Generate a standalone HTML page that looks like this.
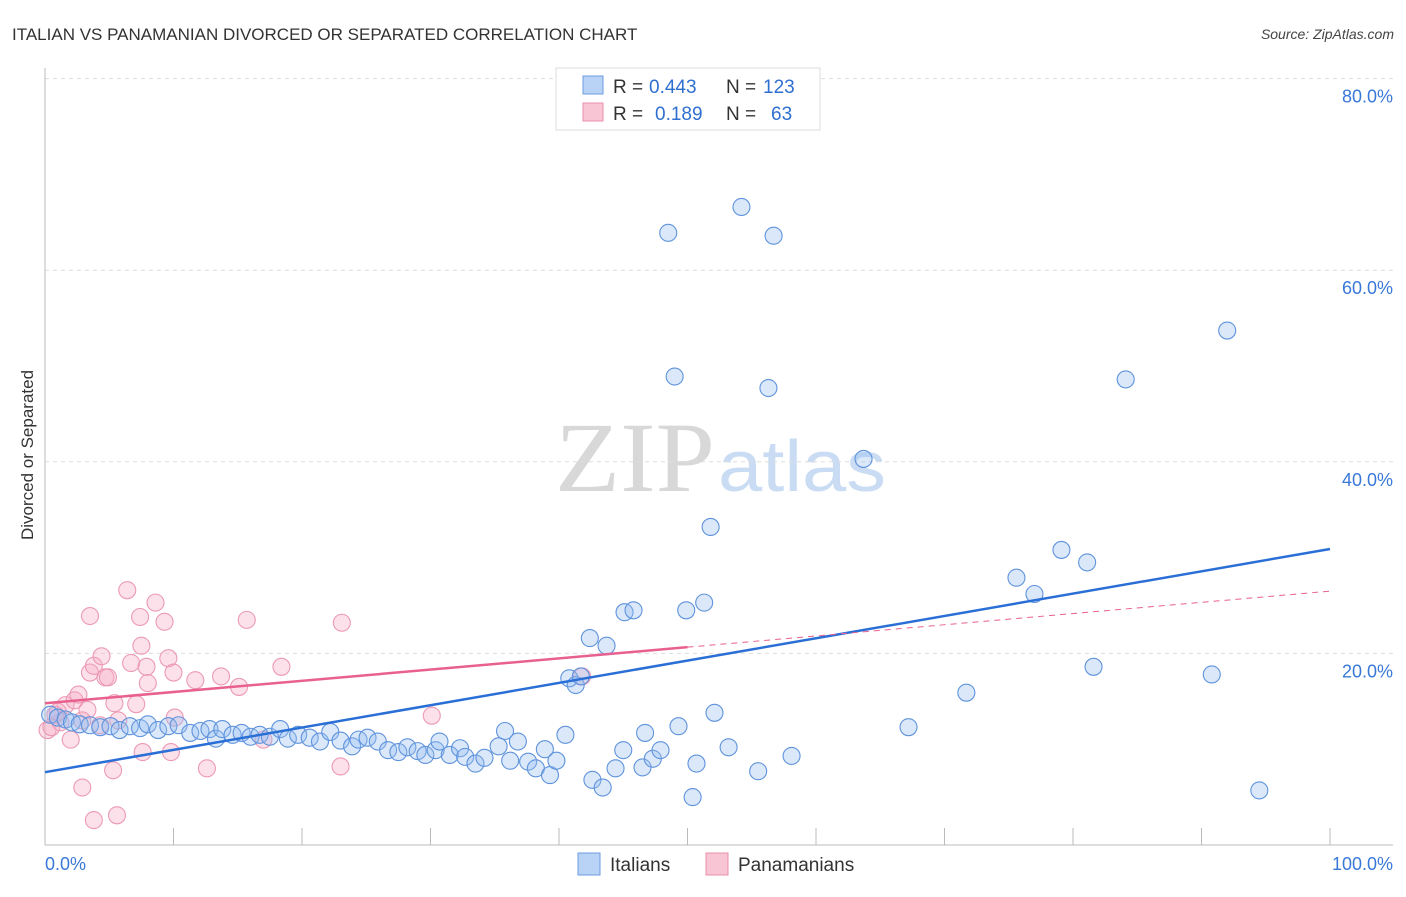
<!DOCTYPE html>
<html><head><meta charset="utf-8"><style>
body{margin:0;background:#fff;font-family:"Liberation Sans",sans-serif}
</style></head><body>
<svg width="1406" height="892" xmlns="http://www.w3.org/2000/svg" font-family="Liberation Sans, sans-serif">
<text x="12" y="40" font-size="17" fill="#333">ITALIAN VS PANAMANIAN DIVORCED OR SEPARATED CORRELATION CHART</text>
<text x="1394" y="39" font-size="14" fill="#444" text-anchor="end" font-style="italic">Source: ZipAtlas.com</text>
<text x="715" y="491" font-size="100" text-anchor="end" font-family="Liberation Serif, serif" fill="#d8d8d8" textLength="160" lengthAdjust="spacingAndGlyphs">ZIP</text>
<text x="718" y="491" font-size="72" fill="#c9dcf3" textLength="168" lengthAdjust="spacingAndGlyphs">atlas</text>
<g id="grid"></g>
<g id="axes"></g>
<g id="pts"></g>
<g id="lines"></g>
<text transform="translate(33,455) rotate(-90)" font-size="17" fill="#333" text-anchor="middle">Divorced or Separated</text>
<g font-size="19">
<rect x="556" y="68" width="264" height="62" fill="#fff" stroke="#ddd"/>
<rect x="583" y="76" width="20" height="18" fill="#b8d3f5" stroke="#6b9be0"/>
<text x="613" y="93" fill="#333">R =</text>
<text x="649" y="93" fill="#2f6fd0">0.443</text>
<text x="726" y="93" fill="#333">N =</text>
<text x="763" y="93" fill="#2f6fd0">123</text>
<rect x="583" y="103" width="20" height="18" fill="#f8c5d4" stroke="#e890aa"/>
<text x="613" y="120" fill="#333">R =</text>
<text x="655" y="120" fill="#2f6fd0">0.189</text>
<text x="726" y="120" fill="#333">N =</text>
<text x="771" y="120" fill="#2f6fd0">63</text>
</g>
<g>
<rect x="578" y="853" width="22" height="22" fill="#b8d3f5" stroke="#6b9be0"/>
<text x="610" y="871" font-size="19" fill="#333">Italians</text>
<rect x="706" y="853" width="22" height="22" fill="#f8c5d4" stroke="#e890aa"/>
<text x="738" y="871" font-size="19" fill="#333">Panamanians</text>
</g>
</svg>
<script>
const xTicks=[0,10,20,30,40,50,60,70,80,90,100];
const yTicks=[20,40,60,80];
const blueX=[0.4,1,1.6,2.1,2.7,3.5,4.3,5.1,5.8,6.6,7.4,8,8.8,9.6,10.4,11.3,12.1,12.8,13.3,13.8,14.6,15.3,16,16.7,17.5,18.3,18.9,19.7,20.6,21.4,22.2,23,23.9,24.4,25.1,25.9,26.7,27.5,28.2,29,29.6,30.4,30.7,31.5,32.3,32.7,33.5,34.2,35.3,35.8,36.2,36.8,37.6,38.2,38.9,39.3,39.8,40.5,42.6,43.4,44.4,45,46.5,46.7,47.3,47.9,49.3,50.4,50.7,52.1,53.2,55.5,58.1,67.2,71.7,81.6,90.8,94.5,40.8,41.3,41.7,42.4,43.7,45.1,45.8,49.9,51.3,51.8,63.7,48.5,54.2,56.7,49,56.3,75.6,77,79.1,81.1,84.1,92];
const blueY=[13.6,13.3,13.1,12.8,12.6,12.5,12.3,12.4,12,12.4,12.2,12.6,12,12.4,12.5,11.7,11.9,12.1,11.1,12.1,11.5,11.7,11.3,11.5,11.3,12.1,11.1,11.5,11.2,10.8,11.8,10.9,10.3,11,11.2,10.8,9.9,9.7,10.2,9.8,9.4,9.9,10.8,9.4,10.1,9.2,8.5,9.1,10.3,11.9,8.8,10.8,8.7,8,10,7.3,8.8,11.5,6.8,6,8,9.9,8.1,11.7,9,9.9,12.4,5,8.5,13.8,10.2,7.7,9.3,12.3,15.9,18.6,17.8,5.7,17.4,16.7,17.6,21.6,20.8,24.3,24.5,24.5,25.3,33.2,40.3,63.9,66.6,63.6,48.9,47.7,27.9,26.2,30.8,29.5,48.6,53.7];
const pinkX=[0.2,0.8,1.2,1.6,2,2.3,2.6,2.9,3.3,3.5,3.8,4.3,4.4,4.7,4.9,3.5,5.3,2.9,3.8,5.6,5.4,5.7,6.4,6.7,7.1,7.4,7.5,7.6,7.9,8,8.6,9.3,9.6,9.8,10,10.1,11.7,12.6,13.7,15.1,15.7,17,18.4,23.1,23,30.1,41.8,0.5,1];
const pinkY=[12,13.6,12.8,14.6,11,15.1,15.7,13,14.1,18,18.7,12.5,19.7,17.5,17.5,23.9,7.8,6,2.6,3.1,14.8,13,26.6,19,14.7,23.8,20.8,9.7,18.6,16.9,25.3,23.3,19.5,9.7,18,13.3,17.2,8,17.6,16.5,23.5,11,18.6,23.2,8.2,13.5,17.6,12.3,13.9];
const blueLine=[7.6,30.9];
const pinkLine=[14.8,26.5];
const NS="http://www.w3.org/2000/svg";
const X=v=>45+v*12.85, Y=v=>845-v*9.58;
function mk(p,t,a){const e=document.createElementNS(NS,t);for(const k in a)e.setAttribute(k,a[k]);document.getElementById(p).appendChild(e);return e;}
yTicks.forEach(t=>{
 const l=mk('grid','line',{x1:45,x2:1393,y1:Y(t),y2:Y(t),stroke:'#ddd','stroke-dasharray':'4,4'});
 
 
 const tx=mk('grid','text',{x:1393,y:Y(t)+24,'font-size':18,fill:'#3a78d8','text-anchor':'end'});tx.textContent=t.toFixed(1)+'%';
 
 
});
mk('axes','line',{x1:45,x2:45,y1:68,y2:845,stroke:'#bbb'});
mk('axes','line',{x1:45,x2:1393,y1:845,y2:845,stroke:'#bbb'});
xTicks.forEach(t=>{if(t>0){const l=mk('axes','line',{x1:X(t),x2:X(t),y1:828,y2:845,stroke:'#bbb'});
 
 }});
[[0,'0.0%','start',45],[100,'100.0%','end',1393]].forEach(a=>{const tx=mk('axes','text',{x:a[3],y:870,'font-size':18,fill:'#3a78d8','text-anchor':a[2]});tx.textContent=a[1];
 
 });
pinkX.forEach((x,i)=>{const c=mk('pts','circle',{cx:X(x),cy:Y(pinkY[i]),r:8.5,fill:'rgba(245,170,195,0.35)',stroke:'#ec9ab4','stroke-width':1.1});
 
 });
blueX.forEach((x,i)=>{const c=mk('pts','circle',{cx:X(x),cy:Y(blueY[i]),r:8.5,fill:'rgba(150,190,240,0.35)',stroke:'#5f93dc','stroke-width':1.1});
 
 });
let l=mk('lines','line',{x1:X(0),y1:Y(blueLine[0]),x2:X(100),y2:Y(blueLine[1]),stroke:'#2a6fd6','stroke-width':2.5});


const pm=pinkLine[0]+(pinkLine[1]-pinkLine[0])*0.5;
l=mk('lines','line',{x1:X(0),y1:Y(pinkLine[0]),x2:X(50),y2:Y(pm),stroke:'#e8608f','stroke-width':2.5});


l=mk('lines','line',{x1:X(50),y1:Y(pm),x2:X(100),y2:Y(pinkLine[1]),stroke:'#e8608f','stroke-width':1,'stroke-dasharray':'6,5'});


</script>
</body></html>
